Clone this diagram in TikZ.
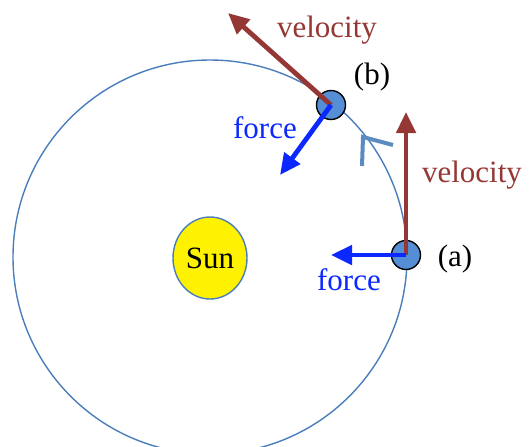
\documentclass[tikz,border=0pt]{standalone}
\usepackage{fontspec}
\setmainfont{Liberation Serif}
\usepackage{tikz}
\usetikzlibrary{arrows.meta,shapes.geometric}
\definecolor{orbitblue}{RGB}{74,126,187}
\definecolor{planetblue}{RGB}{85,142,213}
\definecolor{velred}{RGB}{149,55,53}
\definecolor{forceblue}{RGB}{10,40,255}
\tikzset{
  lbl/.style={font=\fontsize{15.5}{18}\selectfont, inner sep=0pt},
  planet/.style={circle, draw=black, line width=0.7pt, fill=planetblue, minimum size=14.5pt, inner sep=0pt},
  vecarrow/.style={line width=2.4pt, -{Triangle[length=10.5pt,width=9.5pt]}},
}
\begin{document}
\begin{tikzpicture}[x=0.5pt,y=-0.5pt]
\useasboundingbox (0,0) rectangle (529,446);
\clip (0,0) rectangle (529,446);
\draw[orbitblue, line width=0.7pt] (210,257) circle (197);
\node[ellipse, draw=orbitblue, line width=0.7pt, fill=yellow, minimum width=37pt, minimum height=41pt, inner sep=0pt, font=\fontsize{15.5}{18}\selectfont] (sun) at (210,258) {Sun};
% direction of motion
\draw[orbitblue!90, line width=2pt] (362,166)--(363,137)--(393,145);
\node[planet] (pa) at (406,255) {};
\node[planet] (pb) at (331,105) {};
\coordinate (va) at (406,112);
\coordinate (vb) at (228,13);
\coordinate (fa) at (331,255);
\coordinate (fb) at (280,175);
\draw[vecarrow, velred] (pa.center)--(va);
\draw[vecarrow, velred] (pb.center)--(vb);
\draw[vecarrow, forceblue] (pa.center)--(fa);
\draw[vecarrow, forceblue] (pb.center)--(fb);
\node[lbl, text=velred] (vblbl) at (327,30) {velocity};
\node[lbl, text=velred] (valbl) at (472,175) {velocity};
\node[lbl, text=forceblue] (fblbl) at (265,128) {force};
\node[lbl, text=forceblue] (falbl) at (349,280) {force};
\node[lbl] (blbl) at (372,77) {(b)};
\node[lbl] (albl) at (455,259) {(a)};
\end{tikzpicture}
\end{document}
